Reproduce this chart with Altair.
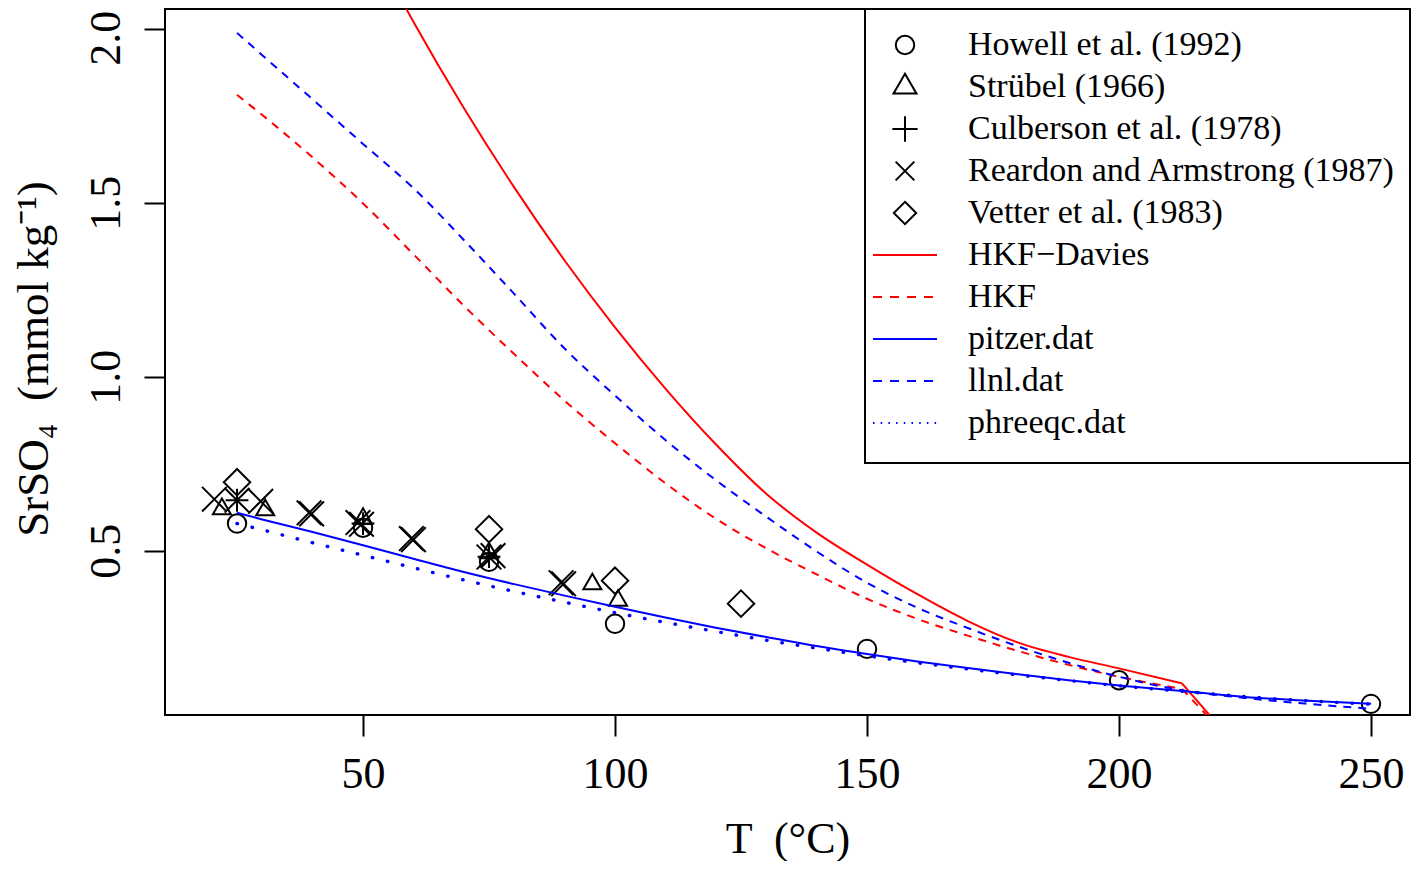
import altair as alt
import pandas as pd

# ---------------- data ----------------
T_grid = [25, 30, 40, 50, 60, 70, 80, 90, 100, 110, 120, 130, 140, 150, 160,
          170, 180, 190, 200, 212.5, 225, 237.5, 250]

hkf_davies = [3.03, 2.87, 2.57, 2.29, 2.02, 1.772, 1.544, 1.334, 1.142, 0.966, 0.806,
              0.664, 0.552, 0.460, 0.375, 0.298, 0.236, 0.195, 0.162, 0.119, -0.09]
hkf = [1.81, 1.752, 1.63, 1.498, 1.352, 1.204, 1.065, 0.931, 0.809, 0.694, 0.592,
       0.507, 0.432, 0.362, 0.304, 0.256, 0.212, 0.172, 0.138, 0.103, -0.09]
pitzer = [0.609, 0.59, 0.554, 0.516, 0.477, 0.439, 0.404, 0.371, 0.339, 0.308, 0.279,
          0.252, 0.226, 0.203, 0.182, 0.163, 0.145, 0.128, 0.113, 0.097, 0.080, 0.069, 0.060]
llnl = [1.988, 1.924, 1.797, 1.669, 1.542, 1.393, 1.238, 1.081, 0.946, 0.818, 0.703,
        0.598, 0.498, 0.408, 0.336, 0.278, 0.225, 0.178, 0.138, 0.099, 0.077, 0.060, 0.046]
phreeqc = [0.578, 0.56, 0.523, 0.487, 0.451, 0.416, 0.383, 0.352, 0.322, 0.294, 0.268,
           0.243, 0.22, 0.198, 0.178, 0.16, 0.143, 0.127, 0.112, 0.096, 0.081, 0.069, 0.059]

howell_T = [25, 50, 75, 100, 150, 200, 250]
howell_S = [0.578, 0.566, 0.468, 0.290, 0.218, 0.128, 0.060]
strubel_T = [22, 30.6, 50, 75, 95.5, 100.6]
strubel_S = [0.620, 0.617, 0.592, 0.493, 0.404, 0.357]
culberson_T = [25, 50, 75]
culberson_S = [0.645, 0.578, 0.483]
reardon_T = [20.5, 25, 29.7, 39.3, 39.8, 49, 49.7, 59.6, 60.0, 75, 75.8, 89.3, 89.8]
reardon_S = [0.648, 0.645, 0.642, 0.609, 0.606, 0.581, 0.576, 0.535, 0.532, 0.482,
             0.486, 0.408, 0.405]
vetter_T = [25, 75, 100, 125]
vetter_S = [0.697, 0.562, 0.414, 0.348]

point_labels = ["Howell et al. (1992)", "Strübel (1966)", "Culberson et al. (1978)",
                "Reardon and Armstrong (1987)", "Vetter et al. (1983)"]
line_labels = ["HKF\u2212Davies", "HKF", "pitzer.dat", "llnl.dat", "phreeqc.dat"]

x_ticks = [50, 100, 150, 200, 250]
y_ticks = [0.5, 1.0, 1.5, 2.0]

# ---------------- styles ----------------
FONT = "Liberation Serif"
W, H = 1245, 706
shapes = {
    point_labels[0]: ("circle", 340),
    point_labels[1]: ("M0,-1L0.866,0.5L-0.866,0.5Z", 700),
    point_labels[2]: ("M-1,0L1,0M0,-1L0,1", 640),
    point_labels[3]: ("M-1,-1L1,1M-1,1L1,-1", 350),
    point_labels[4]: ("M0,-1L1,0L0,1L-1,0Z", 500),
}
line_styles = {
    line_labels[0]: dict(color="#FF0000", dash=None, width=2),
    line_labels[1]: dict(color="#FF0000", dash=[8, 7], width=2),
    line_labels[2]: dict(color="#0000FF", dash=None, width=2),
    line_labels[3]: dict(color="#0000FF", dash=[8, 7], width=2),
    line_labels[4]: dict(color="#0000FF", dash=[0.5, 15], width=3.4),
}
legend_line_dash = {line_labels[1]: [9, 8], line_labels[3]: [9, 8], line_labels[4]: [1.5, 6.2]}

xscale = alt.Scale(domain=[10.71, 257.74], nice=False, zero=False)
yscale = alt.Scale(domain=[0.028, 2.0566], nice=False, zero=False)

xaxis = alt.Axis(values=x_ticks, format="d", title="T \u00a0(°C)", grid=False, domain=False,
                 tickSize=21, tickWidth=2, tickColor="black",
                 labelFont=FONT, labelFontSize=44, labelColor="black",
                 labelBaseline="alphabetic", labelPadding=51, labelFlush=False,
                 labelOverlap=False,
                 titleFont=FONT, titleFontSize=44, titleFontWeight="normal",
                 titleColor="black", titleBaseline="alphabetic", titleAlign="center",
                 titleX=W / 2, titleY=137)
yaxis = alt.Axis(values=y_ticks, format=".1f", title="SrSO₄ \u00a0(mmol kg⁻¹)", grid=False,
                 domain=False, tickSize=21, tickWidth=2, tickColor="black",
                 labelFont=FONT, labelFontSize=44, labelColor="black",
                 labelAngle=270, labelAlign="center", labelBaseline="alphabetic",
                 labelPadding=25, labelFlush=False, labelOverlap=False,
                 labelOffset=alt.ExprRef("datum.value >= 2 ? 9 : 0"),
                 titleFont=FONT, titleFontSize=45, titleFontWeight="normal",
                 titleColor="black", titleAngle=270, titleBaseline="alphabetic",
                 titleAlign="center", titleX=-118, titleY=349.5)

# ---------------- curves ----------------
curve_vals = [hkf_davies, hkf, pitzer, llnl, phreeqc]
layers = []


def curve_layer(df, st, interp, cap=None):
    kw = dict(color=st["color"], strokeWidth=st["width"], clip=True, interpolate=interp)
    if st["dash"]:
        kw["strokeDash"] = st["dash"]
    if cap:
        kw["strokeCap"] = cap
    return alt.Chart(df).mark_line(**kw).encode(
        x=alt.X("T:Q", scale=xscale, axis=xaxis),
        y=alt.Y("S:Q", scale=yscale, axis=yaxis))


for lab, vals in zip(line_labels, curve_vals):
    st = line_styles[lab]
    cap = "round" if lab == line_labels[4] else None
    Ts = T_grid[:len(vals)]
    if vals[-1] < 0:
        smooth = pd.DataFrame({"T": Ts[:-1], "S": vals[:-1]})
        drop = pd.DataFrame({"T": Ts[-2:], "S": vals[-2:]})
        layers.append(curve_layer(smooth, st, "monotone", cap))
        layers.append(curve_layer(drop, st, "linear", cap))
    else:
        layers.append(curve_layer(pd.DataFrame({"T": Ts, "S": vals}), st, "monotone", cap))

# ---------------- points ----------------
pts = []
for lab, Ts, Ss in zip(point_labels,
                       [howell_T, strubel_T, culberson_T, reardon_T, vetter_T],
                       [howell_S, strubel_S, culberson_S, reardon_S, vetter_S]):
    for t, s in zip(Ts, Ss):
        pts.append({"T": t, "S": s, "src": lab})
pts_df = pd.DataFrame(pts)
points = alt.Chart(pts_df).mark_point(filled=False, stroke="black", strokeWidth=2,
                                      opacity=1, clip=True).encode(
    x=alt.X("T:Q", scale=xscale, axis=xaxis),
    y=alt.Y("S:Q", scale=yscale, axis=yaxis),
    shape=alt.Shape("src:N", scale=alt.Scale(domain=point_labels,
                                             range=[shapes[l][0] for l in point_labels]),
                    legend=None),
    size=alt.Size("src:N", scale=alt.Scale(domain=point_labels,
                                           range=[shapes[l][1] for l in point_labels]),
                  legend=None),
)

# ---------------- legend (drawn by hand, R style) ----------------
one = pd.DataFrame({"a": [0]})
legend_layers = [alt.Chart(one).mark_rect(fill="white", stroke="black", strokeWidth=2).encode(
    x=alt.value(700), x2=alt.value(W), y=alt.value(0), y2=alt.value(454))]
row0, dy = 36, 42
for i, lab in enumerate(point_labels + line_labels):
    yrow = row0 + dy * i
    if lab in shapes:
        shp, sz = shapes[lab]
        legend_layers.append(alt.Chart(one).mark_point(
            shape=shp, size=sz, filled=False, stroke="black", strokeWidth=2,
            opacity=1).encode(x=alt.value(740), y=alt.value(yrow)))
    else:
        st = line_styles[lab]
        kw = dict(color=st["color"], strokeWidth=2)
        if lab in legend_line_dash:
            kw["strokeDash"] = legend_line_dash[lab]
        legend_layers.append(alt.Chart(one).mark_rule(**kw).encode(
            x=alt.value(708), x2=alt.value(772), y=alt.value(yrow)))
    legend_layers.append(alt.Chart(one).mark_text(
        text=lab, font=FONT, fontSize=34, align="left", baseline="middle",
        color="black").encode(x=alt.value(803), y=alt.value(yrow)))

chart = alt.layer(points, *layers, *legend_layers).properties(
    width=W, height=H,
    autosize=alt.AutoSizeParams(type="none"),
    padding={"left": 157, "top": 1, "right": 1, "bottom": 146},
).configure(background="white").configure_view(stroke="black", strokeWidth=2)

chart.save("out.html", embed_options={"renderer": "svg", "actions": False})
